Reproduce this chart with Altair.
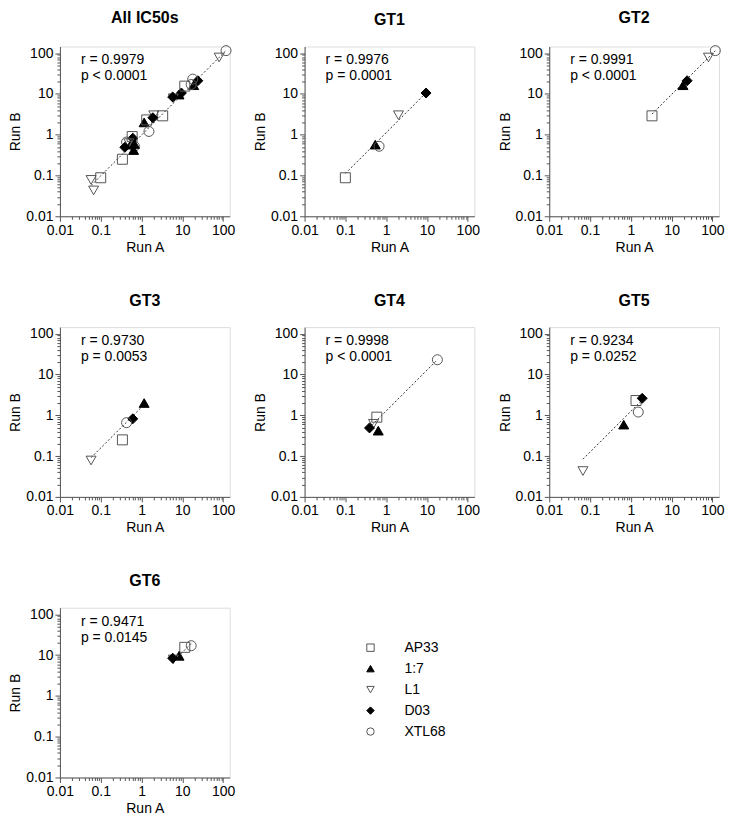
import altair as alt
import pandas as pd

FONT = "Liberation Sans"

SERIES = ["AP33", "1:7", "L1", "D03", "XTL68"]
SHAPES = ["square", "triangle-up", "triangle-down", "diamond", "circle"]
FILLS = ["transparent", "black", "transparent", "black", "transparent"]
STROKES = ["#555555", "black", "#555555", "black", "#555555"]

PANELS = ["GT1", "GT2", "GT3", "GT4", "GT5", "GT6"]
# values per series, in SERIES order
GT1_RUN_A = [0.10, 0.54, 2.0, 9.5, 0.67]
GT1_RUN_B = [0.088, 0.57, 3.0, 10.5, 0.52]
GT2_RUN_A = [3.3, 19.0, 80.0, 24.0, 118.0]
GT2_RUN_B = [2.9, 16.3, 78.0, 21.0, 115.0]
GT3_RUN_A = [0.34, 1.16, 0.058, 0.61, 0.43]
GT3_RUN_B = [0.25, 2.0, 0.078, 0.82, 0.66]
GT4_RUN_A = [0.59, 0.64, 0.49, 0.39, 18.0]
GT4_RUN_B = [0.90, 0.42, 0.62, 0.49, 23.0]
GT5_RUN_A = [1.34, 0.67, 0.067, 1.9, 1.52]
GT5_RUN_B = [2.3, 0.59, 0.043, 2.6, 1.2]
GT6_RUN_A = [11.5, 8.3, 6.0, 5.8, 16.5]
GT6_RUN_B = [15.5, 9.6, 7.8, 8.4, 17.0]

TITLES = ["All IC50s", "GT1", "GT2", "GT3", "GT4", "GT5", "GT6"]
R_TEXT = ["r = 0.9979", "r = 0.9976", "r = 0.9991", "r = 0.9730",
          "r = 0.9998", "r = 0.9234", "r = 0.9471"]
P_TEXT = ["p < 0.0001", "p = 0.0001", "p < 0.0001", "p = 0.0053",
          "p < 0.0001", "p = 0.0252", "p = 0.0145"]

TICK_LABELS = [0.01, 0.1, 1, 10, 100]
MINOR = [m * d for d in [0.01, 0.1, 1, 10] for m in range(2, 10)]
TICKS = sorted(TICK_LABELS + MINOR)

runs = {
    "GT1": (GT1_RUN_A, GT1_RUN_B), "GT2": (GT2_RUN_A, GT2_RUN_B),
    "GT3": (GT3_RUN_A, GT3_RUN_B), "GT4": (GT4_RUN_A, GT4_RUN_B),
    "GT5": (GT5_RUN_A, GT5_RUN_B), "GT6": (GT6_RUN_A, GT6_RUN_B),
}
rows = []
for p in PANELS:
    a_vals, b_vals = runs[p]
    for s, a, b in zip(SERIES, a_vals, b_vals):
        rows.append({"panel": p, "series": s, "a": a, "b": b})
df = pd.DataFrame(rows)
ann = pd.DataFrame({"panel": TITLES, "r": R_TEXT, "p": P_TEXT})

W = 170
DOMAIN = [0.01, 145]
IS_DECADE = "abs(log(datum.value)/LN10 - round(log(datum.value)/LN10)) < 0.001"


def make_axis(title):
    return alt.Axis(
        values=TICKS,
        labelExpr=f"{IS_DECADE} ? format(datum.value, '~g') : ''",
        labelOverlap=False,
        labelFlush=False,
        tickSize={"condition": {"test": IS_DECADE, "value": 5}, "value": 3},
        grid=False,
        domainColor="#555555",
        tickColor="#555555",
        labelColor="black",
        labelFont=FONT,
        labelFontSize=14,
        labelPadding=2,
        title=title,
        titleFont=FONT,
        titleFontSize=14,
        titleFontWeight="normal",
        titleColor="black",
        titlePadding=3,
    )


legend = alt.Legend(
    orient="none", legendX=304, legendY=595, title=None,
    symbolSize=55, symbolStrokeWidth=1, labelFont=FONT, labelFontSize=14,
    labelColor="black", labelOffset=27, rowPadding=7,
)


def panel(title, filt):
    base = alt.Chart(df)
    if filt:
        base = base.transform_filter(alt.datum.panel == title)
    xs = alt.Scale(type="log", domain=DOMAIN, nice=False)
    ys = alt.Scale(type="log", domain=DOMAIN, nice=False)
    pts = base.mark_point(size=100, strokeWidth=1, filled=True, opacity=1).encode(
        x=alt.X("a:Q", scale=xs, axis=make_axis("Run A")),
        y=alt.Y("b:Q", scale=ys, axis=make_axis("Run B")),
        shape=alt.Shape("series:N", scale=alt.Scale(domain=SERIES, range=SHAPES), legend=legend),
        fill=alt.Fill("series:N", scale=alt.Scale(domain=SERIES, range=FILLS), legend=legend),
        stroke=alt.Stroke("series:N", scale=alt.Scale(domain=SERIES, range=STROKES), legend=legend),
    )
    fit = (
        base.transform_calculate(xy="datum.a*datum.b", xx="datum.a*datum.a")
        .transform_joinaggregate(sxy="sum(xy)", sxx="sum(xx)")
        .transform_calculate(fit="datum.sxy/datum.sxx*datum.a")
        .mark_line(strokeDash=[2, 2], strokeWidth=1, color="#333333")
        .encode(x=alt.X("a:Q", sort="ascending"), y="fit:Q", order="a:Q")
    )
    txt = alt.Chart(ann).transform_filter(alt.datum.panel == title)
    t1 = txt.mark_text(align="left", baseline="middle", font=FONT, fontSize=14, color="black").encode(
        x=alt.value(21), y=alt.value(14), text="r:N")
    t2 = txt.mark_text(align="left", baseline="middle", font=FONT, fontSize=14, color="black").encode(
        x=alt.value(21), y=alt.value(30), text="p:N")
    return alt.layer(fit, pts, t1, t2).properties(
        width=W, height=W,
        title=alt.TitleParams(text=title, font=FONT, fontSize=16, fontWeight="bold",
                              color="black", frame="group", anchor="middle", offset=18),
    )


charts = [panel("All IC50s", False)] + [panel(p, True) for p in PANELS]
chart = alt.concat(*charts, columns=3, spacing={"row": 111, "column": 75}, bounds="flush").resolve_scale(
    shape="shared", fill="shared", stroke="shared"
).properties(padding=0).configure_view(stroke="transparent").configure(background="white")

chart.save("out.html", embed_options={"renderer": "svg", "actions": False})
